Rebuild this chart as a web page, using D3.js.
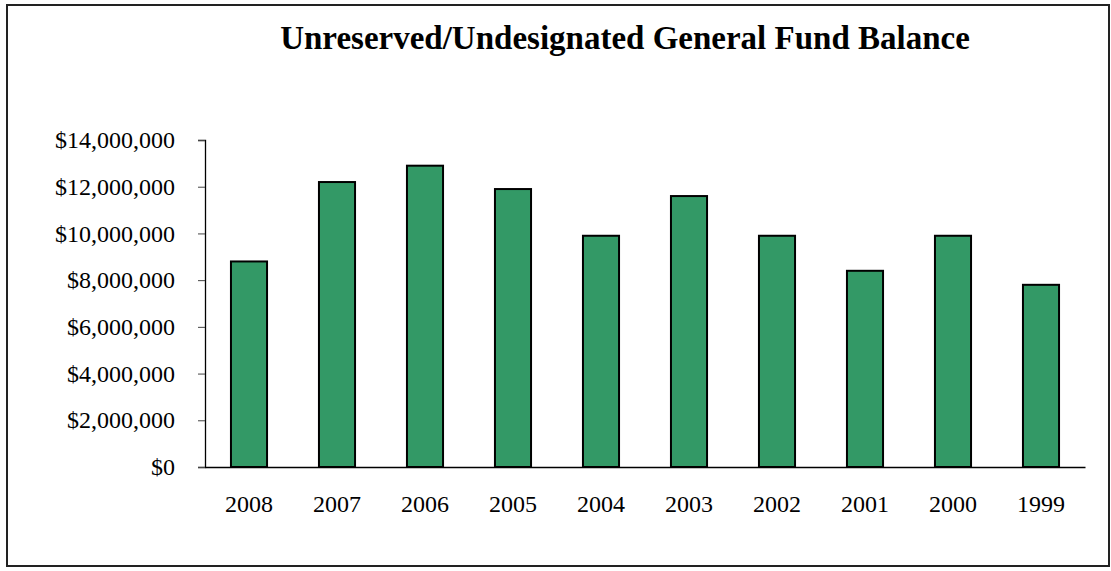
<!DOCTYPE html>
<html>
<head>
<meta charset="utf-8">
<script src="https://cdn.jsdelivr.net/npm/d3@7"></script>
<style>
  body { margin: 0; background: #fff; }
  svg { display: block; }
</style>
</head>
<body>
<div id="chart-area"></div>
<script>
// dados
const years = ["2008", "2007", "2006", "2005", "2004", "2003", "2002", "2001", "2000", "1999"]
const balances = [8800000, 12200000, 12900000, 11900000, 9900000, 11600000, 9900000, 8400000, 9900000, 7800000]
const yTicks = [0, 2000000, 4000000, 6000000, 8000000, 10000000, 12000000, 14000000]

const W = 1111, H = 571
const MARGIN = { LEFT: 205, RIGHT: 26, TOP: 140, BOTTOM: 104 }
const WIDTH = W - MARGIN.LEFT - MARGIN.RIGHT
const HEIGHT = H - MARGIN.TOP - MARGIN.BOTTOM
const FONT = "'Liberation Serif', 'Times New Roman', serif"

const svg = d3.select("#chart-area").append("svg")
  .attr("width", W)
  .attr("height", H)

// moldura
svg.append("rect")
  .attr("x", 7).attr("y", 5)
  .attr("width", 1102).attr("height", 561)
  .attr("fill", "none")
  .attr("stroke", "#222")
  .attr("stroke-width", 2)

// titulo
svg.append("text")
  .attr("x", 625)
  .attr("y", 49)
  .attr("text-anchor", "middle")
  .attr("font-family", FONT)
  .attr("font-weight", "bold")
  .attr("font-size", "33px")
  .text("Unreserved/Undesignated General Fund Balance")

const g = svg.append("g")
  .attr("transform", `translate(${MARGIN.LEFT}, ${MARGIN.TOP})`)

const x = d3.scaleBand()
  .domain(years)
  .range([0, WIDTH])
  .paddingInner(0.59)
  .paddingOuter(0.295)

const y = d3.scaleLinear()
  .domain([0, 14000000])
  .range([HEIGHT, 0])

// eixo y
const yAxis = g.append("g")
  .call(d3.axisLeft(y)
    .tickValues(yTicks)
    .tickSize(7)
    .tickPadding(23)
    .tickFormat(d => "$" + d3.format(",")(d)))
yAxis.select(".domain").attr("stroke", "#000").attr("stroke-width", 1.3)
yAxis.selectAll(".tick line").attr("stroke", "#444")
yAxis.selectAll("text")
  .attr("font-family", FONT)
  .attr("font-size", "24px")
  .attr("fill", "#000")

// barras
g.selectAll("rect.bar")
  .data(years)
  .enter().append("rect")
  .attr("class", "bar")
  .attr("x", (d) => x(d))
  .attr("y", (d, i) => y(balances[i]))
  .attr("width", x.bandwidth())
  .attr("height", (d, i) => HEIGHT - y(balances[i]))
  .attr("fill", "#339966")
  .attr("stroke", "#000")
  .attr("stroke-width", 2)

// eixo x
const xAxis = g.append("g")
  .attr("transform", `translate(0, ${HEIGHT})`)
  .call(d3.axisBottom(x).tickSize(0).tickPadding(28))
xAxis.select(".domain").attr("stroke", "#000").attr("stroke-width", 1.3)
xAxis.selectAll("text")
  .attr("font-family", FONT)
  .attr("font-size", "24px")
  .attr("fill", "#000")
</script>
</body>
</html>
